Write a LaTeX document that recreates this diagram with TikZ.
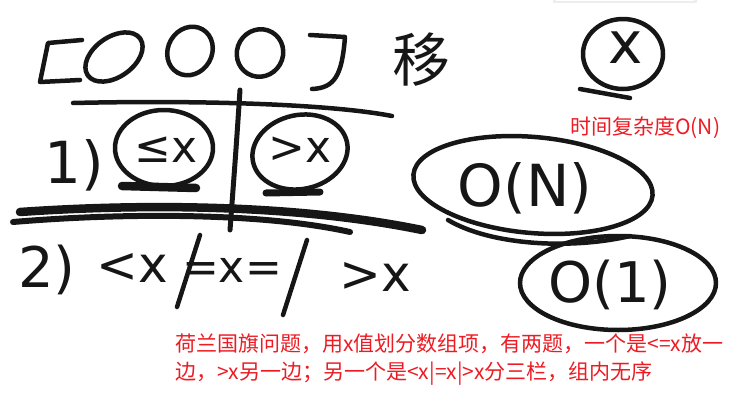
\documentclass[tikz,border=0pt]{standalone}
\usepackage{fontspec}
\setmainfont{DejaVu Sans}
\newfontfamily\cjk{Noto Sans CJK SC}
\definecolor{inkblack}{RGB}{22,22,22}
\definecolor{notered}{RGB}{236,28,36}

\begin{document}
\begin{tikzpicture}[
    x=1pt, y=-1pt,
    line join=round
]

% ---------------------------------------------------------
% BOUNDING BOX (pixel grid of the sketch, y downwards)
% ---------------------------------------------------------
\path [use as bounding box] (0,0) rectangle (739,402);

\tikzset{ink/.style={draw=inkblack, line width=4.5pt, line cap=round}}
\tikzset{heavy ink/.style={draw=inkblack, line width=8.5pt, line cap=round}}
\tikzset{hand/.style={text=inkblack, inner sep=0pt}}
\tikzset{note/.style={text=notered, inner sep=0pt, align=left, font=\cjk\fontsize{21}{28}\selectfont}}

% window shadow at the top edge
\fill[black!7] (553,-4) rectangle (697,3);
\fill[white]   (556,-4) rectangle (694,1);

% ---------------------------------------------------------
% 1. ARRAY [O O O] AND THE PIVOT
% ---------------------------------------------------------
\draw[ink] (82,40) -- (48,43) -- (40,82) -- (80,80);
\draw[ink, rotate around={-55:(114,57)}] (114,57) ellipse [x radius=20, y radius=32];
\draw[ink, rotate around={-30:(190,51)}] (190,51) ellipse [x radius=22, y radius=25];
\draw[ink, rotate around={-30:(260,53)}] (260,53) ellipse [x radius=23, y radius=24];
\draw[ink] (310,35) -- (345,37) .. controls (342,75) and (335,88) .. (312,89);

\node[hand, font=\cjk\fontsize{58}{58}\selectfont] (move) at (421,60) {移};

% pivot x, circled and underlined
\draw[ink] (623,54) ellipse [x radius=40, y radius=35];
\draw[ink] (580,89) -- (630,98);
\node[hand, font=\fontsize{58}{58}\selectfont] (pivot) at (626,48) {x};

% ---------------------------------------------------------
% 2. CASE 1: TWO PARTS
% ---------------------------------------------------------
\draw[ink] (73,103) .. controls (200,100) and (330,104) .. (392,116);
\draw[ink, line width=5pt] (240,90) .. controls (236,150) .. (230,230);

\node[hand, font=\fontsize{58}{58}\selectfont] (caseA) at (74,165) {1)};

\draw[ink] (164,148) ellipse [x radius=49, y radius=38];
\draw[heavy ink] (122,186) -- (196,188);
\node[hand, font=\fontsize{44}{44}\selectfont] (lesseq) at (166,150) {≤x};

\draw[ink, rotate around={12:(300,152)}] (300,152) ellipse [x radius=48, y radius=37];
\draw[heavy ink, line width=7pt] (266,193) -- (320,192);
\node[hand, font=\fontsize{44}{44}\selectfont] (greater) at (300,150) {>x};

% double stroke under case 1
\draw[heavy ink] (20,212) .. controls (150,203) and (300,205) .. (422,230);
\draw[heavy ink, line width=6pt] (13,222) .. controls (120,213) and (260,212) .. (350,232);

% ---------------------------------------------------------
% 3. CASE 2: THREE PARTS
% ---------------------------------------------------------
\node[hand, font=\fontsize{56}{56}\selectfont] (caseB) at (47,270) {2)};
\node[hand, font=\fontsize{50}{50}\selectfont] (less) at (132,268) {<x};
\draw[ink] (200,235) -- (177,307);
\node[hand, font=\fontsize{44}{44}\selectfont] (equal) at (232,270) {=x=};
\draw[ink] (307,240) -- (283,315);
\node[hand, font=\fontsize{50}{50}\selectfont] (more) at (375,277) {>x};

% ---------------------------------------------------------
% 4. COSTS
% ---------------------------------------------------------
\draw[ink, rotate around={-5:(533,185)}] (533,185) ellipse [x radius=120, y radius=48];
\draw[ink] (448,220) .. controls (490,245) and (570,250) .. (630,236);
\node[hand, font=\fontsize{58}{58}\selectfont] (timeN) at (525,188) {O(N)};

\draw[ink] (618,283) ellipse [x radius=98, y radius=47];
\node[hand, font=\fontsize{56}{56}\selectfont] (spaceOne) at (610,285) {O(1)};

% ---------------------------------------------------------
% 5. RED NOTES
% ---------------------------------------------------------
\node[note, anchor=west] (timenote) at (570,128) {时间复杂度O(N)};
\node[note, anchor=north west] (flagnote) at (175,334)
    {荷兰国旗问题，用x值划分数组项，有两题，一个是<=x放一\\
     边，>x另一边；另一个是<x|=x|>x分三栏，组内无序};

\end{tikzpicture}
\end{document}
